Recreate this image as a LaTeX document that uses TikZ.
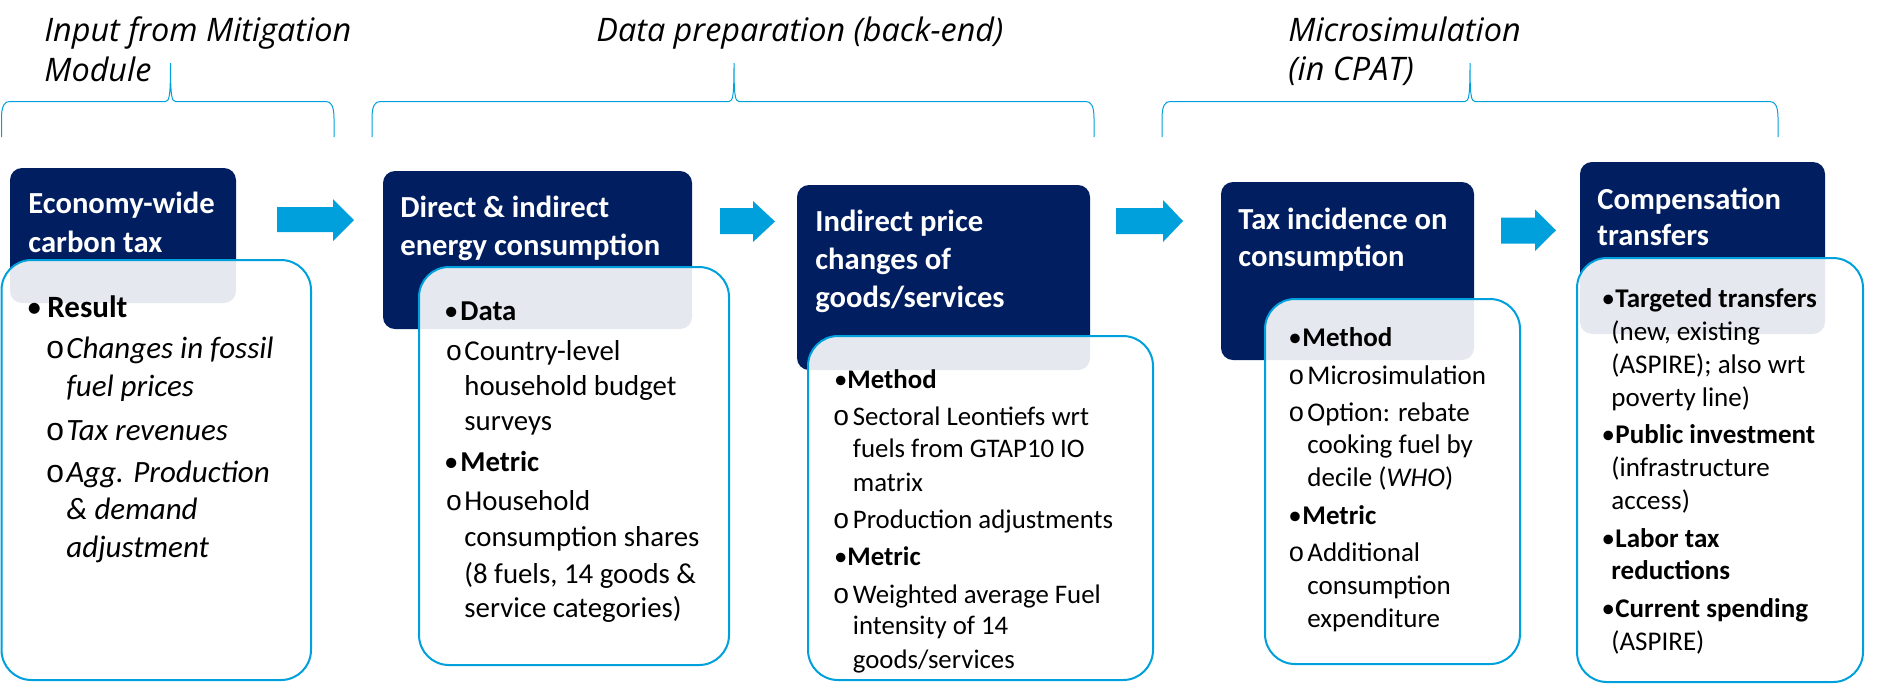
\documentclass[tikz,border=0pt]{standalone}
\usepackage{fontspec}
\setmainfont{Carlito}
\newfontfamily\topfont{Open Sans}
\newfontfamily\monofont{Liberation Mono}
\definecolor{navy}{RGB}{0,30,96}
\definecolor{cblue}{RGB}{0,160,220}
% bullet: #1 = distance from dot centre to text start
\newcommand\bu[1]{\llap{\makebox[0pt]{•}\hspace{#1}}}
% open circle: #1 = glyph size, #2 = gap to text
\newcommand\ci[2]{\llap{{\monofont\fontsize{#1}{#1}\selectfont o}\hspace{#2}}}
\tikzset{
  x=0.5pt, y=-0.5pt,
  darkbox/.style={fill=navy, rounded corners=6pt},
  litebox/.style={draw=cblue, line width=1pt, fill=white, fill opacity=0.9, rounded corners=15pt},
  brace/.style={draw=cblue, line width=0.5pt},
  barrow/.style={fill=cblue},
  ttl/.style={anchor=base west, inner sep=0pt, text=white, font=\fontsize{15.3}{18}\selectfont\bfseries},
  hdr/.style={anchor=base west, inner sep=0pt, font=\topfont\itshape\fontsize{16.2}{18}\selectfont},
  txa/.style={anchor=base west, inner sep=0pt, font=\fontsize{15.5}{18}\selectfont},
  txb/.style={anchor=base west, inner sep=0pt, font=\fontsize{14.4}{17}\selectfont},
  txc/.style={anchor=base west, inner sep=0pt, font=\fontsize{13.4}{16}\selectfont},
  txd/.style={anchor=base west, inner sep=0pt, font=\fontsize{13.5}{16}\selectfont},
  txe/.style={anchor=base west, inner sep=0pt, font=\fontsize{13.5}{16}\selectfont},
}
\newcommand\bracepath[3]{%
  \draw[brace] (#1,137) -- (#1,118) .. controls (#1,106) and (#1+3,101.5) .. (#1+8,101.5)
    -- (#2-5,101.5) .. controls (#2-1,101.5) and (#2,95) .. (#2,63)
    .. controls (#2,95) and (#2+1,101.5) .. (#2+5,101.5)
    -- (#3-8,101.5) .. controls (#3-3,101.5) and (#3,106) .. (#3,118) -- (#3,137);}
\newcommand\blockarrow[7]{% x0, xh, tip, shaft top, shaft bottom, head top, head bottom
  \fill[barrow] (#1,#4) -- (#2,#4) -- (#2,#6) -- (#3,{(#6+#7)/2}) -- (#2,#7) -- (#2,#5) -- (#1,#5) -- cycle;}
\begin{document}
\begin{tikzpicture}
\useasboundingbox (0,0) rectangle (1883,693);

% headers
\node[hdr] (t1) at (44,41.7) {Input from Mitigation};
\node[hdr] (t2) at (44,81.7) {Module};
\node[hdr] (t3) at (596,41) {Data preparation (back-end)};
\node[hdr] (t4) at (1288,41.5) {Microsimulation};
\node[hdr] (t5) at (1288,80) {(in CPAT)};

% braces
\bracepath{1.5}{170.5}{334}
\bracepath{372}{734}{1094}
\bracepath{1162}{1470}{1778}

% arrows
\blockarrow{277}{333}{354}{207}{232}{199}{241}
\blockarrow{720}{753}{775}{208}{234}{201}{242}
\blockarrow{1116}{1163}{1183}{208}{234}{200}{242}
\blockarrow{1501}{1535}{1556}{217.5}{243.5}{209.5}{251}

% box A
\path[darkbox] (10,168) rectangle (236,303);
\path[litebox] (1.5,260) rectangle (311,680);
\node[ttl] (ta1) at (28,213) {Economy-wide};
\node[ttl] (ta2) at (28,252) {carbon tax};
\node[txa] (a1) at (47,317) {\bu{6.5pt}\textbf{Result}};
\node[txa] (a2) at (66,358) {\ci{16}{0.8pt}\textit{Changes in fossil}};
\node[txa] (a3) at (66,396) {\textit{fuel prices}};
\node[txa] (a4) at (66,440) {\ci{16}{0.8pt}\textit{Tax revenues}};
\node[txa] (a5) at (66,482) {\ci{16}{0.8pt}\textit{Agg. Production}};
\node[txa] (a6) at (66,519) {\textit{\& demand}};
\node[txa] (a7) at (66,557) {\textit{adjustment}};

% box B
\path[darkbox] (383,171) rectangle (692,329);
\path[litebox] (419,267) rectangle (729,665);
\node[ttl] (tb1) at (400,217) {Direct \& indirect};
\node[ttl] (tb2) at (400,255) {energy consumption};
\node[txb] (b1) at (460,320) {\bu{4.5pt}\textbf{Data}};
\node[txb] (b2) at (464,360) {\ci{14}{1pt}Country-level};
\node[txb] (b3) at (464,395) {household budget};
\node[txb] (b4) at (464,430) {surveys};
\node[txb] (b5) at (460,471) {\bu{4.5pt}\textbf{Metric}};
\node[txb] (b6) at (464,510) {\ci{14}{1pt}Household};
\node[txb] (b7) at (464,546) {consumption shares};
\node[txb] (b8) at (464,583) {(8 fuels, 14 goods \&};
\node[txb] (b9) at (464,617) {service categories)};

% box C
\path[darkbox] (797,185) rectangle (1090,370);
\path[litebox] (808,336) rectangle (1153,680);
\node[ttl] (tc1) at (815,231) {Indirect price};
\node[ttl] (tc2) at (815,269) {changes of};
\node[ttl] (tc3) at (815,307) {goods/services};
\node[txc] (c1) at (847,388) {\bu{3.3pt}\textbf{Method}};
\node[txc] (c2) at (852.5,425) {\ci{14}{1.6pt}Sectoral Leontiefs wrt};
\node[txc] (c3) at (852.5,457) {fuels from GTAP10 IO};
\node[txc] (c4) at (852.5,491) {matrix};
\node[txc] (c5) at (852.5,528) {\ci{14}{1.6pt}Production adjustments};
\node[txc] (c6) at (847,565) {\bu{3.3pt}\textbf{Metric}};
\node[txc] (c7) at (852.5,603) {\ci{14}{1.6pt}Weighted average Fuel};
\node[txc] (c8) at (852.5,634) {intensity of 14};
\node[txc] (c9) at (852.5,668) {goods/services};

% box D
\path[darkbox] (1221,182) rectangle (1474,360);
\path[litebox] (1265,299) rectangle (1520,664);
\node[ttl] (td1) at (1238,229) {Tax incidence on};
\node[ttl] (td2) at (1238,266) {consumption};
\node[txd] (d1) at (1302,346.5) {\bu{3.7pt}\textbf{Method}};
\node[txd] (d2) at (1307,384) {\ci{13.5}{1.4pt}Microsimulation};
\node[txd] (d3) at (1307,421) {\ci{13.5}{1.4pt}Option: rebate};
\node[txd] (d4) at (1307,453) {cooking fuel by};
\node[txd] (d5) at (1307,486) {decile (\textit{WHO})};
\node[txd] (d6) at (1302,524) {\bu{3.7pt}\textbf{Metric}};
\node[txd] (d7) at (1307,561) {\ci{13.5}{1.4pt}Additional};
\node[txd] (d8) at (1307,594) {consumption};
\node[txd] (d9) at (1307,627) {expenditure};

% box E
\path[darkbox] (1580,162) rectangle (1825,334);
\path[litebox] (1577,258) rectangle (1863,682);
\node[ttl] (te1) at (1597,209) {Compensation};
\node[ttl] (te2) at (1597,245) {transfers};
\node[txe] (e1) at (1615,307) {\bu{3.5pt}\textbf{Targeted transfers}};
\node[txe] (e2) at (1611,340) {(new, existing};
\node[txe] (e3) at (1611,373) {(ASPIRE); also wrt};
\node[txe] (e4) at (1611,406) {poverty line)};
\node[txe] (e5) at (1615,443) {\bu{3.5pt}\textbf{Public investment}};
\node[txe] (e6) at (1611,476) {(infrastructure};
\node[txe] (e7) at (1611,509) {access)};
\node[txe] (e8) at (1615,547) {\bu{3.5pt}\textbf{Labor tax}};
\node[txe] (e9) at (1611,579) {\textbf{reductions}};
\node[txe] (e10) at (1615,617) {\bu{3.5pt}\textbf{Current spending}};
\node[txe] (e11) at (1611,650) {(ASPIRE)};
\end{tikzpicture}
\end{document}
